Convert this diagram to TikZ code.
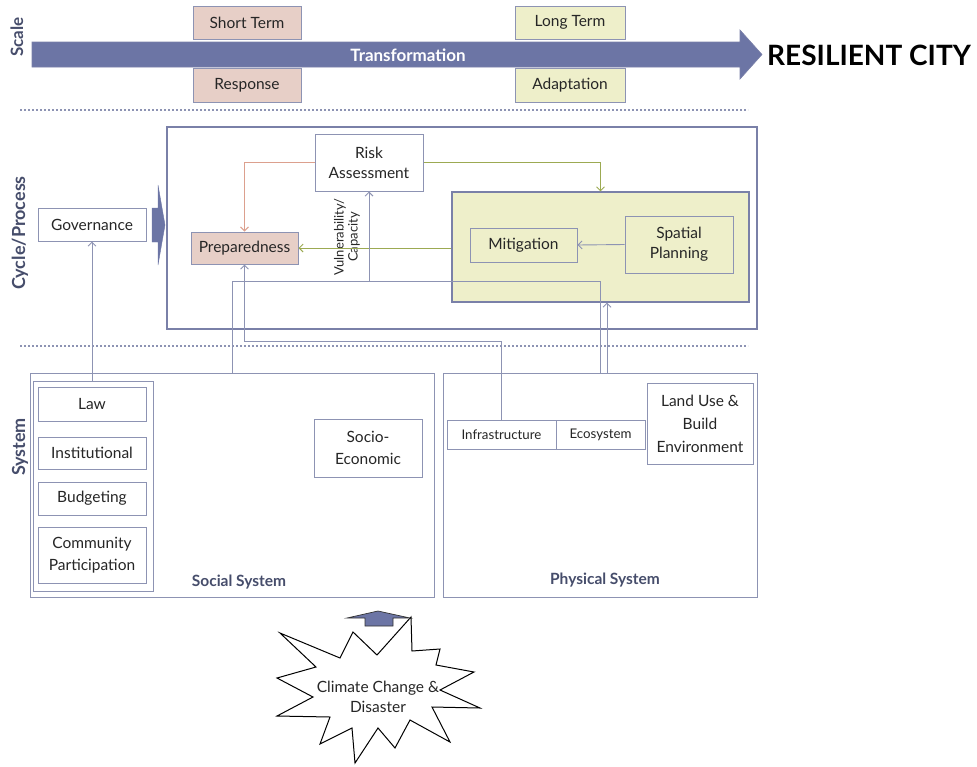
\documentclass[tikz,border=0pt]{standalone}
\usepackage{fontspec}
\setmainfont{Lato}
\usetikzlibrary{arrows.meta,fit}
\definecolor{bd}{HTML}{8D93B3}
\definecolor{bdd}{HTML}{7A80A8}
\definecolor{blu}{HTML}{6C75A5}
\definecolor{pnk}{HTML}{E7CFC7}
\definecolor{yel}{HTML}{EEEFCA}
\definecolor{grn}{HTML}{9CAA52}
\definecolor{org}{HTML}{DCA08E}
\definecolor{lab}{HTML}{464D6B}
\tikzset{
  bx/.style={draw=bd, line width=1pt, fill=white, inner sep=0pt, align=center, font=\fontsize{15}{18}\selectfont, text=black!85},
  pbx/.style={bx, fill=pnk},
  ybx/.style={bx, fill=yel},
  side/.style={rotate=90, font=\bfseries\fontsize{17}{19}\selectfont, text=lab},
  con/.style={draw=bd, line width=0.9pt},
  arr/.style={con, -{Straight Barb[length=4pt,width=8pt]}},
  dots/.style={draw=bd, line width=2pt, dash pattern=on 2pt off 2pt},
  txt/.style={font=\fontsize{15.5}{18}\selectfont, text=black!85, align=center},
}
\begin{document}
\begin{tikzpicture}[x=1pt,y=-1pt]
\useasboundingbox (0,0) rectangle (977,766);
% ---------- Scale ----------
\node[side] (scale) at (17,37) {Scale};
\draw[fill=blu, draw=bdd, line width=0.6pt] (32,42) -- (740,42) -- (740,30) -- (762,54.5) -- (740,79) -- (740,67) -- (32,67) -- cycle;
\node[text=white, font=\bfseries\fontsize{17}{20}\selectfont] (trans) at (408,55) {Transformation};
\node[pbx, fit={(193,6) (301,39)}] (short) {};
\node[txt] at (short) {Short Term};
\node[pbx, fit={(193,68) (301,102)}] (resp) {};
\node[txt] at (resp) {Response};
\node[ybx, fit={(515,6) (625,39)}] (long) {};
\node[txt] at (long) {Long Term};
\node[ybx, fit={(515,68) (625,102)}] (adapt) {};
\node[txt] at (adapt) {Adaptation};
\node[font=\bfseries\fontsize{28}{30}\selectfont, anchor=west, inner sep=0] (city) at (767,55) {RESILIENT CITY};
\coordinate (d1a) at (20,110); \coordinate (d1b) at (748,110);
\draw[dots] (d1a) -- (d1b);
% ---------- Cycle / Process ----------
\node[side, font=\bfseries\fontsize{18}{20}\selectfont] (cyc) at (20,233) {Cycle/Process};
\node[draw=bdd, line width=1.3pt, fit={(167,127) (757,329)}, inner sep=0pt] (cycle) {};
\node[bx, fit={(38,208) (146,241)}] (gov) {};
\node[txt] at (gov) {Governance};
\draw[fill=blu, draw=blu] (152,208) -- (158,208) -- (158,185) -- (165,225) -- (158,265) -- (158,242) -- (152,242) -- cycle;
\node[bx, fit={(315,134) (423,191)}] (risk) {};
\node[txt, font=\fontsize{15.5}{20}\selectfont] at (risk) {Risk\\Assessment};
\node[pbx, fit={(191,232) (298,264)}] (prep) {};
\node[txt] at (prep) {Preparedness};
\node[ybx, draw=bdd, line width=1.2pt, fit={(452,192) (749,302)}] (ybox) {};
\node[ybx, fit={(470,228) (577,262)}] (mit) {};
\node[txt] at (mit) {Mitigation};
\node[ybx, fit={(625,216) (733,273)}] (spat) {};
\node[txt, font=\fontsize{15.5}{20}\selectfont] at (spat) {Spatial\\Planning};
\node[rotate=90, align=center, font=\fontsize{13}{14}\selectfont, text=black!85] (vul) at (347,237) {Vulnerability/\\Capacity};
% connectors in cycle
\draw[con, draw=org, -{Straight Barb[length=4pt,width=8pt]}] (risk.west) -| (prep.north);
\draw[con, draw=grn, -{Straight Barb[length=4pt,width=8pt]}] (risk.east) -| (ybox.north);
\draw[con, draw=grn, -{Straight Barb[length=4pt,width=8pt]}] (ybox.west |- prep.east) -- (prep.east);
\draw[arr] (spat.west) -- (mit.east);
\coordinate (d2a) at (20,346); \coordinate (d2b) at (748,346);
\draw[dots] (d2a) -- (d2b);
% ---------- System ----------
\node[side, font=\bfseries\fontsize{18}{20}\selectfont] (sys) at (20,447) {System};
\node[bx, fit={(30,373) (434,597)}] (social) {};
\node[bx, fit={(33,381) (153,591)}] (col) {};
\node[bx, fit={(38,387) (146,421)}] (law) {};
\node[txt] at (law) {Law};
\node[bx, fit={(38,437) (146,469)}] (inst) {};
\node[txt] at (inst) {Institutional};
\node[bx, fit={(38,482) (146,515)}] (budg) {};
\node[txt] at (budg) {Budgeting};
\node[bx, fit={(38,527) (146,583)}] (comm) {};
\node[txt, font=\fontsize{15.5}{22}\selectfont] at (comm) {Community\\Participation};
\node[bx, fit={(314,419) (422,477)}] (socio) {};
\node[txt, font=\fontsize{15.5}{22}\selectfont] at (socio) {Socio-\\Economic};
\node[font=\bfseries\fontsize{15.5}{17}\selectfont, text=lab] (soclab) at (239,582) {Social System};
\node[bx, fit={(443,373) (757,597)}] (phys) {};
\node[bx, fit={(447,420) (556,449)}] (infra) {};
\node[font=\fontsize{13.3}{16}\selectfont, text=black!85] at (infra) {Infrastructure};
\node[bx, fit={(556,420) (645,449)}] (eco) {};
\node[font=\fontsize{13.3}{16}\selectfont, text=black!85] at (eco) {Ecosystem};
\node[bx, fit={(647,383) (753,464)}] (land) {};
\node[txt, font=\fontsize{15.5}{23}\selectfont] at (land) {Land Use \&\\Build\\Environment};
\node[font=\bfseries\fontsize{15.5}{17}\selectfont, text=lab] (phylab) at (605,580) {Physical System};
% connectors between levels
\coordinate (j1) at (232,281);
\coordinate (j2) at (600,281);
\coordinate (j3) at (369,281);
\draw[con] (social.north -| j1) -- (j1) -- (j2) -- (phys.north -| j2);
\draw[arr] (j3) -- (risk.south);
\coordinate (k1) at (501.5,341);
\draw[arr] (infra.north -| k1) -- (k1) -| (prep.south);
\coordinate (m1) at (607,373);
\draw[arr] (m1) -- (m1 |- ybox.south);
\coordinate (g1) at (92,381);
\draw[arr] (g1) -- (gov.south);
% ---------- Climate change star ----------
\draw[line width=1pt, fill=white] (280,633) -- (340,658) -- (353,632) -- (377,655) -- (411,617) -- (412,651) -- (440,649) -- (436,665) -- (474,672) -- (440,690) -- (480,708) -- (432,707) -- (450,742) -- (410,720) -- (395,748) -- (378,728) -- (355,763) -- (352,728) -- (320,744) -- (330,717) -- (277,716) -- (313,697) -- (277,678) -- (316,667) -- cycle;
\node[align=center, font=\fontsize{15.5}{20}\selectfont, text=black!85] (climate) at (378,697) {Climate Change \&\\Disaster};
\draw[fill=blu, draw=black!80, line width=0.7pt] (365,626) -- (365,618) -- (347,618) -- (378,611) -- (410,618) -- (393,618) -- (393,626) -- cycle;
\end{tikzpicture}
\end{document}
